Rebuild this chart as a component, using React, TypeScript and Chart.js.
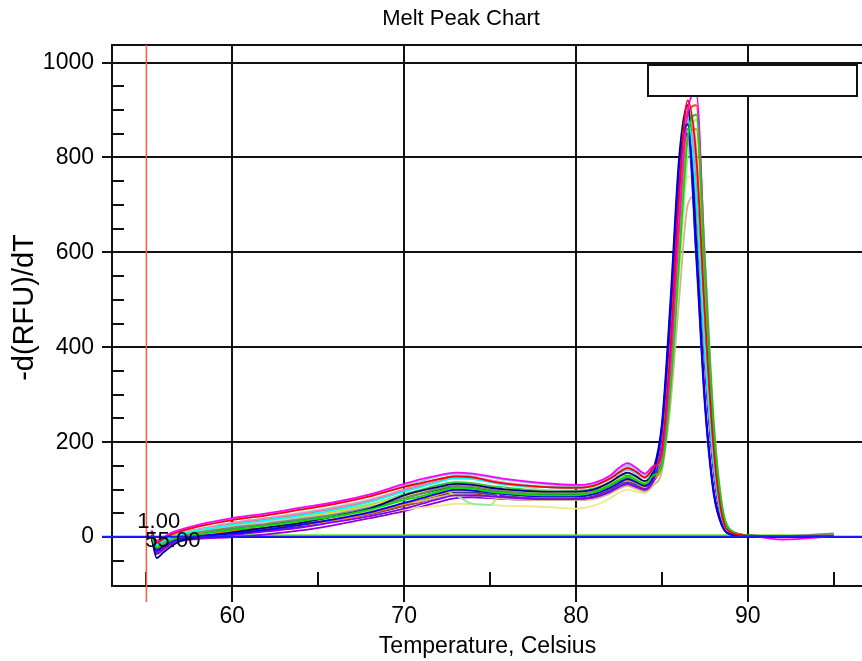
import React, { useEffect, useRef } from 'react';
import { Chart, registerables } from 'chart.js';

Chart.register(...registerables);

const chartTitle = 'Melt Peak Chart';
const xTitle = 'Temperature, Celsius';
const yTitle = '-d(RFU)/dT';

const temperatures = [55.3, 55.6, 56, 56.5, 57, 58, 60, 62, 64, 66, 68, 70, 71, 72, 73, 74, 75, 76, 78, 80, 81, 82, 82.5, 83, 83.5, 84, 84.5, 85, 85.5, 86, 86.5, 87, 87.5, 88, 88.5, 89, 90, 92, 95];

const well01 = [12, -12, -4, 6, 12, 22, 36, 46, 58, 70, 86, 106, 114, 122, 128, 126, 118, 112, 106, 104, 108, 124, 136, 146, 138, 126, 146, 185, 400, 720, 920, 800, 470, 190, 45, 10, 3, 2, 3];
const well02 = [2, -22, -14, -6, 0, 6, 16, 24, 34, 44, 58, 78, 86, 96, 104, 102, 96, 92, 88, 88, 94, 110, 120, 128, 120, 112, 130, 150, 310, 580, 840, 890, 560, 240, 65, 14, 4, 2, 3];
const well03 = [4, -28, -18, -8, -2, 2, 8, 16, 26, 38, 52, 72, 82, 92, 100, 98, 94, 90, 86, 86, 90, 104, 114, 122, 116, 108, 130, 230, 480, 780, 870, 590, 280, 95, 24, 6, 3, 2, 2];
const well04 = [14, -8, 0, 10, 16, 26, 40, 50, 62, 74, 90, 112, 122, 130, 136, 134, 128, 122, 114, 110, 114, 130, 146, 156, 146, 134, 150, 170, 360, 660, 900, 935, 580, 240, 60, 14, 4, -5, 2];
const well05 = [8, -16, -8, 0, 6, 14, 26, 36, 46, 58, 74, 96, 106, 116, 124, 122, 116, 110, 106, 104, 108, 124, 136, 144, 136, 126, 144, 185, 400, 700, 880, 720, 400, 165, 40, 10, 3, 2, 3];
const well06 = [0, -44, -32, -18, -8, 0, 10, 20, 30, 44, 60, 88, 98, 106, 112, 110, 104, 100, 96, 96, 100, 116, 128, 136, 128, 118, 142, 240, 500, 800, 910, 620, 290, 100, 25, 6, 2, 1, 2];
const well07 = [-2, -30, -22, -12, -6, -2, 4, 12, 20, 32, 44, 60, 70, 80, 88, 88, 86, 84, 80, 80, 84, 96, 106, 112, 106, 100, 120, 200, 440, 740, 850, 600, 290, 100, 25, 6, 3, 2, 2];
const well08 = [3, -20, -14, -6, 0, 4, 12, 18, 26, 36, 50, 70, 80, 90, 98, 98, 94, 90, 86, 86, 90, 104, 114, 120, 114, 106, 124, 150, 320, 600, 850, 860, 540, 230, 60, 14, 4, 2, 3];
const well09 = [5, -16, -10, -2, 4, 10, 20, 28, 38, 48, 62, 82, 92, 102, 108, 106, 100, 96, 92, 92, 96, 110, 120, 126, 120, 112, 132, 175, 380, 680, 860, 700, 390, 160, 38, 9, 3, 2, 8];
const well10 = [7, -14, -6, 2, 8, 14, 24, 32, 40, 50, 64, 80, 88, 96, 102, 100, 94, 90, 86, 86, 90, 104, 114, 120, 114, 106, 126, 210, 460, 750, 840, 580, 270, 90, 22, 6, 3, 2, 3];
const well11 = [14, -10, -2, 8, 14, 24, 38, 48, 60, 72, 88, 108, 118, 128, 134, 132, 126, 120, 112, 108, 112, 128, 142, 152, 144, 132, 150, 180, 390, 700, 900, 820, 500, 210, 55, 12, 4, 2, 3];
const well12 = [6, -18, -10, -2, 4, 10, 22, 30, 40, 52, 66, 86, 96, 104, 110, 108, 102, 98, 94, 94, 98, 112, 122, 128, 122, 114, 134, 180, 390, 700, 870, 700, 390, 160, 38, 9, 3, 2, 3];
const well13 = [4, -22, -14, -6, 0, 6, 18, 26, 36, 46, 60, 80, 90, 100, 106, 104, 98, 94, 90, 90, 94, 108, 118, 124, 118, 110, 130, 175, 390, 690, 860, 720, 400, 160, 38, 8, 3, 2, 3];
const well14 = [3, -20, -12, -4, 2, 8, 18, 24, 32, 42, 54, 70, 76, 84, 90, 88, 84, 80, 78, 78, 80, 92, 102, 108, 102, 96, 110, 140, 280, 500, 700, 720, 480, 220, 60, 14, 4, 2, 3];
const well15 = [5, -24, -16, -6, 0, 6, 18, 26, 36, 46, 60, 82, 92, 100, 106, 104, 98, 96, 92, 92, 96, 110, 120, 126, 120, 112, 132, 170, 370, 680, 850, 700, 390, 160, 38, 9, 3, 2, 3];
const well16 = [8, -14, -6, 2, 8, 14, 26, 34, 44, 56, 70, 88, 98, 100, 88, 70, 68, 110, 100, 96, 100, 114, 126, 134, 126, 116, 136, 150, 300, 560, 800, 880, 600, 260, 70, 16, 4, 2, 3];
const well17 = [2, -24, -16, -8, -2, 4, 14, 20, 28, 38, 50, 66, 74, 84, 90, 90, 86, 84, 80, 80, 84, 96, 106, 112, 106, 100, 118, 165, 360, 660, 830, 700, 400, 165, 40, 9, 3, 2, 3];
const well18 = [10, -14, -6, 2, 8, 16, 30, 40, 50, 62, 78, 100, 110, 120, 130, 128, 120, 114, 106, 104, 108, 122, 134, 142, 134, 124, 144, 190, 420, 740, 910, 760, 420, 170, 42, 10, 3, 2, 3];
const well19 = [3, -18, -10, -4, 0, 4, 12, 18, 26, 34, 44, 58, 62, 66, 70, 70, 68, 66, 64, 60, 66, 82, 94, 100, 96, 92, 110, 140, 300, 560, 760, 740, 460, 200, 55, 13, 4, 2, 3];
const well20 = [-4, -36, -26, -14, -8, -4, 0, 6, 14, 26, 40, 55, 64, 74, 82, 84, 82, 80, 78, 78, 82, 94, 104, 110, 104, 98, 116, 170, 380, 690, 870, 680, 360, 140, 32, 8, 3, 2, 2];
const well21 = [4, -20, -12, -4, 2, 8, 20, 28, 38, 50, 64, 84, 94, 104, 110, 108, 102, 98, 94, 94, 98, 112, 124, 130, 124, 114, 134, 178, 395, 700, 870, 700, 385, 155, 37, 9, 3, 2, 3];
const well22 = [2, -6, -4, 4, 4, 4, 4, 4, 4, 4, 4, 4, 4, 4, 4, 4, 4, 4, 4, 4, 4, 4, 4, 4, 4, 4, 4, 4, 4, 4, 4, 4, 4, 4, 4, 4, 4, 4, 4];
const well23 = [9, -16, -8, 2, 8, 16, 28, 38, 48, 60, 76, 98, 108, 118, 126, 124, 118, 112, 106, 104, 108, 124, 136, 144, 136, 126, 142, 165, 350, 650, 890, 910, 580, 250, 65, 15, 4, 2, 3];
const well24 = [0, -34, -24, -12, -4, 0, 6, 14, 22, 34, 48, 66, 76, 86, 94, 94, 90, 86, 82, 82, 86, 100, 110, 116, 110, 102, 122, 175, 390, 700, 880, 700, 380, 150, 35, 8, 3, 2, 2];
const well25 = [6, -18, -10, -2, 4, 12, 24, 32, 42, 54, 68, 90, 100, 110, 116, 114, 108, 104, 98, 98, 102, 116, 128, 136, 128, 118, 138, 182, 400, 710, 890, 740, 420, 175, 44, 10, 3, 2, 3];
const well26 = [8, -14, -6, 2, 8, 16, 30, 40, 52, 64, 80, 100, 112, 122, 128, 126, 120, 114, 108, 106, 110, 126, 140, 150, 142, 130, 148, 188, 410, 720, 880, 760, 440, 185, 48, 11, 4, 2, 3];

const wellSeries = [well01, well02, well03, well04, well05, well06, well07, well08, well09, well10, well11, well12, well13, well14, well15, well16, well17, well18, well19, well20, well21, well22, well23, well24, well25, well26];
const wellColors = ['#ff0000', '#00e000', '#0000ff', '#ff00ff', '#00ffff', '#000080', '#8000ff', '#ff8000', '#808080', '#c8c8c8', '#87ceeb', '#ffe000', '#008000', '#d2b48c', '#4682b4', '#90ee90', '#a0522d', '#ff80c0', '#f0e68c', '#9400d3', '#008080', '#66ee22', '#ff4500', '#483d8b', '#32cd32', '#b0e0e6'];

const xMajorTicks = [60, 70, 80, 90];
const xMinorTicks = [55, 65, 75, 85, 95];
const yMajorTicks = [0, 200, 400, 600, 800, 1000];
const yMinorTicks = [-50, 50, 100, 150, 250, 300, 350, 450, 500, 550, 650, 700, 750, 850, 900, 950];

const thresholdTemp = 55;
const thresholdValue = 1;
const thresholdTempLabel = '55.00';
const thresholdValueLabel = '1.00';

const FONT = '"Liberation Sans", Arial, sans-serif';

const decorPlugin = {
  id: 'decor',
  afterDatasetsDraw(chart: any) {
    const { ctx, chartArea: a, scales } = chart;
    const xs = scales.x;
    const ys = scales.y;
    ctx.save();
    ctx.strokeStyle = '#111';
    ctx.lineWidth = 2;
    ctx.beginPath();
    ctx.moveTo(a.left, a.top);
    ctx.lineTo(a.right, a.top);
    ctx.stroke();
    ctx.beginPath();
    yMinorTicks.forEach((v) => {
      const py = Math.round(ys.getPixelForValue(v));
      ctx.moveTo(a.left, py);
      ctx.lineTo(a.left + 12, py);
    });
    xMinorTicks.forEach((v) => {
      const px = Math.round(xs.getPixelForValue(v));
      ctx.moveTo(px, a.bottom);
      ctx.lineTo(px, a.bottom - 14);
    });
    ctx.stroke();
    const x55 = xs.getPixelForValue(thresholdTemp);
    const y1 = ys.getPixelForValue(thresholdValue);
    ctx.strokeStyle = '#ff5a46';
    ctx.lineWidth = 1.5;
    ctx.beginPath();
    ctx.moveTo(x55, a.top);
    ctx.lineTo(x55, a.bottom + 16);
    ctx.stroke();
    ctx.strokeStyle = '#1a1aff';
    ctx.lineWidth = 2;
    ctx.beginPath();
    ctx.moveTo(a.left - 10, y1);
    ctx.lineTo(a.right, y1);
    ctx.stroke();
    ctx.fillStyle = '#000';
    ctx.font = '22px ' + FONT;
    ctx.textAlign = 'left';
    ctx.textBaseline = 'alphabetic';
    ctx.fillText(thresholdValueLabel, x55 - 9, y1 - 9);
    ctx.fillText(thresholdTempLabel, x55 - 1, y1 + 10);
    ctx.fillStyle = '#fff';
    ctx.strokeStyle = '#111';
    ctx.lineWidth = 2;
    ctx.fillRect(a.right - 227, a.top + 20, 209, 31);
    ctx.strokeRect(a.right - 227, a.top + 20, 209, 31);
    ctx.restore();
  },
  afterDraw(chart: any) {
    const { ctx, chartArea: a } = chart;
    ctx.save();
    ctx.fillStyle = '#000';
    ctx.textAlign = 'center';
    ctx.textBaseline = 'middle';
    ctx.font = '22px ' + FONT;
    ctx.fillText(chartTitle, chart.width / 2, 19);
    ctx.font = '23px ' + FONT;
    ctx.fillText(xTitle, (a.left + a.right) / 2 - 6, 647);
    ctx.translate(25, (a.top + a.bottom) / 2 - 8);
    ctx.rotate(-Math.PI / 2);
    ctx.font = '29px ' + FONT;
    ctx.fillText(yTitle, 0, 0);
    ctx.restore();
  },
};

export default function App() {
  const canvasRef = useRef<HTMLCanvasElement | null>(null);

  useEffect(() => {
    const canvas = canvasRef.current;
    if (!canvas) return;
    const datasets = wellSeries.map((vals, i) => ({
      label: 'Well ' + (i + 1),
      data: temperatures.map((t, j) => ({ x: t, y: vals[j] })),
      borderColor: wellColors[i],
      backgroundColor: wellColors[i],
      borderWidth: 1.8,
      pointRadius: 0,
      fill: false,
      cubicInterpolationMode: 'monotone' as const,
    }));
    const chart = new Chart(canvas, {
      type: 'line',
      data: { datasets },
      plugins: [decorPlugin],
      options: {
        animation: false,
        responsive: false,
        maintainAspectRatio: false,
        layout: { padding: { top: 45, right: 47, left: 0, bottom: 0 } },
        plugins: { legend: { display: false }, title: { display: false }, tooltip: { enabled: false } },
        scales: {
          x: {
            type: 'linear',
            min: 53,
            max: 97.4,
            afterBuildTicks: (s: any) => { s.ticks = xMajorTicks.map((v) => ({ value: v })); },
            afterFit: (s: any) => { s.height = 75; },
            grid: { color: '#111', lineWidth: 2, tickLength: 16, drawTicks: true },
            border: { display: true, color: '#111', width: 2 },
            ticks: { color: '#000', font: { family: FONT, size: 23 }, padding: 1, maxRotation: 0, autoSkip: false, callback: (v: any) => String(v) },
          },
          y: {
            type: 'linear',
            min: -103,
            max: 1037,
            afterBuildTicks: (s: any) => { s.ticks = yMajorTicks.map((v) => ({ value: v })); },
            afterFit: (s: any) => { s.width = 112; },
            grid: { color: '#111', lineWidth: 2, tickLength: 10, drawTicks: true },
            border: { display: true, color: '#111', width: 2 },
            ticks: { color: '#000', font: { family: FONT, size: 23 }, padding: 8, autoSkip: false, callback: (v: any) => String(v) },
          },
        },
      },
    });
    return () => chart.destroy();
  }, []);

  return (
    <div style={{ position: 'fixed', left: 0, top: 0, width: 862, height: 661, overflow: 'hidden', background: '#fff' }}>
      <canvas ref={canvasRef} width={922} height={661} style={{ width: 922, height: 661, display: 'block' }} />
    </div>
  );
}
